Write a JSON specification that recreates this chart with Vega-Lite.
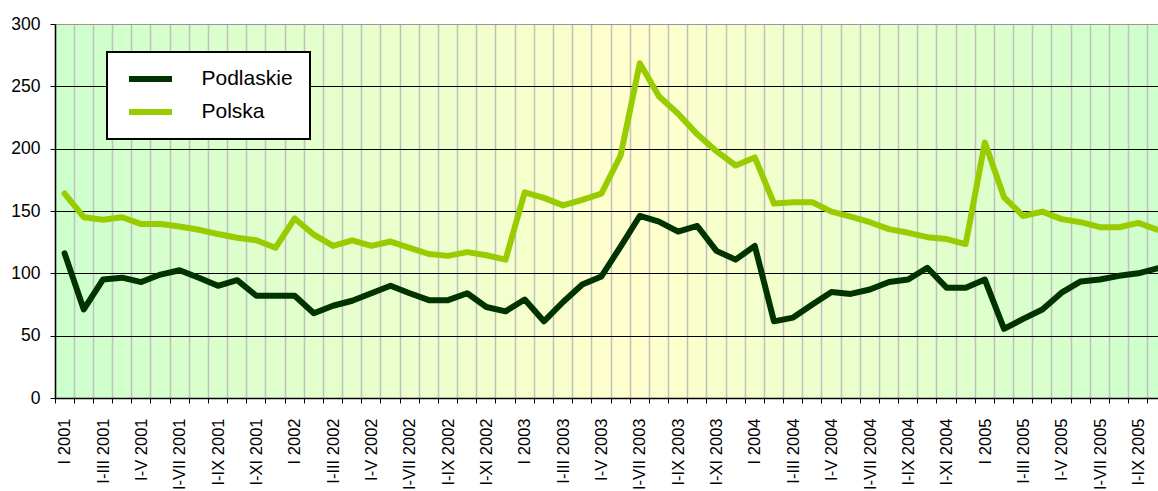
{
  "$schema": "https://vega.github.io/schema/vega-lite/v6.json",
  "width": 1112,
  "height": 374,
  "autosize": {"type": "none"},
  "padding": {"left": 55, "top": 24, "right": 0, "bottom": 93},
  "background": "white",
  "config": {
    "font": "Liberation Sans",
    "view": {
      "stroke": null,
      "fill": {
        "gradient": "linear",
        "x1": 0, "y1": 0, "x2": 1, "y2": 0,
        "stops": [
          {"offset": 0, "color": "#ccffcc"},
          {"offset": 0.52, "color": "#ffffcc"},
          {"offset": 1, "color": "#ccffcc"}
        ]
      }
    }
  },
  "data": {
    "values": [
      {"m": "I 2001", "Podlaskie": 116, "Polska": 164},
      {"m": "I-II 2001", "Podlaskie": 71, "Polska": 145},
      {"m": "I-III 2001", "Podlaskie": 95, "Polska": 143},
      {"m": "I-IV 2001", "Podlaskie": 96.5, "Polska": 145},
      {"m": "I-V 2001", "Podlaskie": 93, "Polska": 139.5},
      {"m": "I-VI 2001", "Podlaskie": 99, "Polska": 139.5},
      {"m": "I-VII 2001", "Podlaskie": 102.5, "Polska": 137.5},
      {"m": "I-VIII 2001", "Podlaskie": 96.5, "Polska": 135},
      {"m": "I-IX 2001", "Podlaskie": 90, "Polska": 131.5},
      {"m": "I-X 2001", "Podlaskie": 94.5, "Polska": 128.5},
      {"m": "I-XI 2001", "Podlaskie": 82, "Polska": 126.5},
      {"m": "I-XII 2001", "Podlaskie": 82, "Polska": 120.5},
      {"m": "I 2002", "Podlaskie": 82, "Polska": 144},
      {"m": "I-II 2002", "Podlaskie": 68, "Polska": 131},
      {"m": "I-III 2002", "Podlaskie": 74, "Polska": 122},
      {"m": "I-IV 2002", "Podlaskie": 78, "Polska": 126.5},
      {"m": "I-V 2002", "Podlaskie": 84, "Polska": 122},
      {"m": "I-VI 2002", "Podlaskie": 90, "Polska": 125.5},
      {"m": "I-VII 2002", "Podlaskie": 84, "Polska": 120.5},
      {"m": "I-VIII 2002", "Podlaskie": 78.5, "Polska": 115.5},
      {"m": "I-IX 2002", "Podlaskie": 78.5, "Polska": 114},
      {"m": "I-X 2002", "Podlaskie": 84, "Polska": 117},
      {"m": "I-XI 2002", "Podlaskie": 73, "Polska": 114.5},
      {"m": "I-XII 2002", "Podlaskie": 69.5, "Polska": 111},
      {"m": "I 2003", "Podlaskie": 79, "Polska": 165},
      {"m": "I-II 2003", "Podlaskie": 61.5, "Polska": 160.5},
      {"m": "I-III 2003", "Podlaskie": 77, "Polska": 154.5},
      {"m": "I-IV 2003", "Podlaskie": 91, "Polska": 159},
      {"m": "I-V 2003", "Podlaskie": 97.5, "Polska": 164},
      {"m": "I-VI 2003", "Podlaskie": 121.5, "Polska": 194.5},
      {"m": "I-VII 2003", "Podlaskie": 146, "Polska": 268.5},
      {"m": "I-VIII 2003", "Podlaskie": 141.5, "Polska": 242},
      {"m": "I-IX 2003", "Podlaskie": 133.5, "Polska": 228},
      {"m": "I-X 2003", "Podlaskie": 138, "Polska": 211.5},
      {"m": "I-XI 2003", "Podlaskie": 118, "Polska": 198},
      {"m": "I-XII 2003", "Podlaskie": 111, "Polska": 186.5},
      {"m": "I 2004", "Podlaskie": 122, "Polska": 193},
      {"m": "I-II 2004", "Podlaskie": 61.5, "Polska": 156},
      {"m": "I-III 2004", "Podlaskie": 64.5, "Polska": 157},
      {"m": "I-IV 2004", "Podlaskie": 75, "Polska": 157},
      {"m": "I-V 2004", "Podlaskie": 85, "Polska": 149.5},
      {"m": "I-VI 2004", "Podlaskie": 83.5, "Polska": 145.5},
      {"m": "I-VII 2004", "Podlaskie": 87, "Polska": 141},
      {"m": "I-VIII 2004", "Podlaskie": 93, "Polska": 135.5},
      {"m": "I-IX 2004", "Podlaskie": 95, "Polska": 132.5},
      {"m": "I-X 2004", "Podlaskie": 104.5, "Polska": 129},
      {"m": "I-XI 2004", "Podlaskie": 88.5, "Polska": 127.5},
      {"m": "I-XII 2004", "Podlaskie": 88.5, "Polska": 123.5},
      {"m": "I 2005", "Podlaskie": 95, "Polska": 205},
      {"m": "I-II 2005", "Podlaskie": 55.5, "Polska": 161},
      {"m": "I-III 2005", "Podlaskie": 63.5, "Polska": 146},
      {"m": "I-IV 2005", "Podlaskie": 71, "Polska": 149.5},
      {"m": "I-V 2005", "Podlaskie": 84.5, "Polska": 143.5},
      {"m": "I-VI 2005", "Podlaskie": 93.5, "Polska": 141},
      {"m": "I-VII 2005", "Podlaskie": 95, "Polska": 137},
      {"m": "I-VIII 2005", "Podlaskie": 98, "Polska": 137},
      {"m": "I-IX 2005", "Podlaskie": 100, "Polska": 140.5},
      {"m": "I-X 2005", "Podlaskie": 104, "Polska": 135}
    ]
  },
  "transform": [
    {"fold": ["Podlaskie", "Polska"], "as": ["seria", "wartosc"]}
  ],
  "mark": {"type": "line", "strokeWidth": 6, "strokeJoin": "round", "strokeCap": "round"},
  "encoding": {
    "x": {
      "field": "m",
      "type": "nominal",
      "sort": null,
      "scale": {"type": "band", "paddingInner": 0, "paddingOuter": 0},
      "axis": {
        "title": null,
        "bandPosition": 0,
        "labelOffset": 0.7,
        "labelAngle": -90,
        "labelAlign": "right",
        "labelBaseline": "middle",
        "labelFontSize": 16.5,
        "labelColor": "black",
        "labelPadding": 15,
        "labelExpr": "indexof(['I','I-III','I-V','I-VII','I-IX','I-XI'], split(datum.label, ' ')[0]) >= 0 ? datum.label : ''",
        "labelOverlap": false,
        "labelBound": false,
        "labelFlush": false,
        "labelLimit": 300,
        "tickSize": 5,
        "tickColor": "black",
        "tickWidth": 1,
        "domainColor": "black",
        "domainWidth": 1.5,
        "grid": true,
        "gridColor": "#c0c0c0",
        "gridWidth": 1.5
      }
    },
    "y": {
      "field": "wartosc",
      "type": "quantitative",
      "scale": {"domain": [0, 300], "nice": false},
      "axis": {
        "title": null,
        "values": [0, 50, 100, 150, 200, 250, 300],
        "labelFontSize": 17.5,
        "labelColor": "black",
        "labelPadding": 10,
        "tickSize": 5,
        "tickColor": "black",
        "domainColor": "black",
        "domainWidth": 1.5,
        "grid": true,
        "gridColor": {"condition": {"test": "datum.value == 300", "value": "#999999"}, "value": "black"},
        "gridWidth": 1
      }
    },
    "color": {
      "field": "seria",
      "type": "nominal",
      "scale": {"domain": ["Podlaskie", "Polska"], "range": ["#003300", "#99cc00"]},
      "legend": {
        "title": null,
        "orient": "none",
        "legendX": 52,
        "legendY": 28,
        "fillColor": "white",
        "strokeColor": "black",
        "padding": 16.5,
        "clipHeight": 21,
        "symbolType": "stroke",
        "symbolSize": 1849,
        "symbolStrokeWidth": 6,
        "symbolOffset": 2.5,
        "labelFontSize": 21,
        "labelColor": "black",
        "labelOffset": 26.5,
        "rowPadding": 11,
        "labelLimit": 300,
        "labelExpr": "datum.label + '\u00a0\u00a0\u00a0'",
        "encode": {"legend": {"update": {"strokeWidth": {"value": 2}}}}
      }
    }
  }
}
